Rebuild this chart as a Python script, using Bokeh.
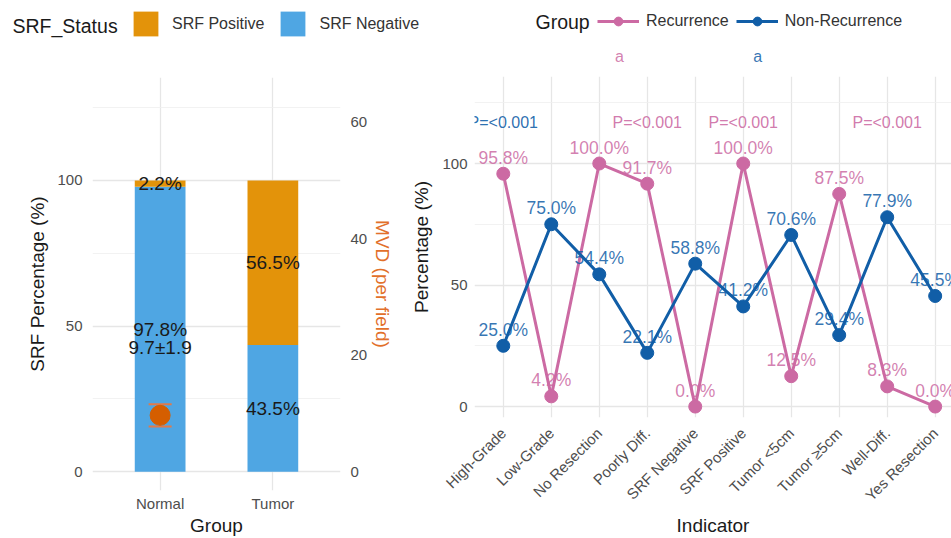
import math
from bokeh.plotting import figure
from bokeh.layouts import row, column
from bokeh.models import (ColumnDataSource, FactorRange, Range1d, LinearAxis,
                          FixedTicker, Legend, LegendItem)
from bokeh.core.properties import value
from bokeh.embed import file_html
from bokeh.resources import INLINE

FONT = "Liberation Sans"
NAN = float("nan")

# ---------------- data: left panel ----------------
groups = ["Normal", "Tumor"]
srf_negative = [97.8, 43.5]
srf_positive = [2.2, 56.5]
mvd_group = ["Normal"]
mvd_mean = [9.7]
mvd_sd = [1.9]

# ---------------- data: right panel ----------------
indicators = ["High-Grade", "Low-Grade", "No Resection", "Poorly Diff.",
              "SRF Negative", "SRF Positive", "Tumor <5cm", "Tumor \u22655cm",
              "Well-Diff.", "Yes Resection"]
recurrence = [95.8, 4.2, 100.0, 91.7, 0.0, 100.0, 12.5, 87.5, 8.3, 0.0]
non_recurrence = [25.0, 75.0, 54.4, 22.1, 58.8, 41.2, 70.6, 29.4, 77.9, 45.5]
p_indicators = ["High-Grade", "Poorly Diff.", "SRF Positive", "Well-Diff."]
p_groups = ["Non-Recurrence", "Recurrence", "Recurrence", "Recurrence"]
p_texts = ["P=<0.001", "P=<0.001", "P=<0.001", "P=<0.001"]

# ---------------- styles ----------------
C_NEG = "#4FA6E3"
C_POS = "#E3930A"
C_MVD = "#D55E00"
C_REC = "#CC6AA3"
C_NON = "#115EA7"
GRID = "#E6E6E6"
MINOR = "#EFEFEF"
TICK_COL = "#4D4D4D"
TXT = "#1A1A1A"
HEADER_H = 48
MAIN_H = 490


def style_axis(ax, label_standoff, tick_standoff):
    ax.axis_line_color = None
    ax.major_tick_line_color = None
    ax.minor_tick_line_color = None
    ax.major_tick_out = 0
    ax.major_tick_in = 0
    ax.minor_tick_out = 0
    ax.minor_tick_in = 0
    ax.major_label_text_font = FONT
    ax.major_label_text_font_size = "15px"
    ax.major_label_text_color = TICK_COL
    ax.major_label_standoff = tick_standoff
    ax.axis_label_text_font = FONT
    ax.axis_label_text_font_size = "19px"
    ax.axis_label_text_font_style = "normal"
    ax.axis_label_text_color = TXT
    ax.axis_label_standoff = label_standoff


def make_legend(items, glyph_w, glyph_h, standoff, spacing):
    leg = Legend(items=items)
    leg.orientation = "horizontal"
    leg.glyph_width = glyph_w
    leg.glyph_height = glyph_h
    leg.label_standoff = standoff
    leg.spacing = spacing
    leg.padding = 0
    leg.margin = 0
    leg.border_line_color = None
    leg.background_fill_alpha = 0
    leg.label_text_font = FONT
    leg.label_text_font_size = "16px"
    leg.label_text_color = "#333333"
    return leg


def new_fig(**kw):
    p = figure(output_backend="svg", toolbar_location=None,
               outline_line_color=None, **kw)
    try:
        p.frame_align = False
    except Exception:
        pass
    return p


def header_fig(width):
    # pixel-scaled header strip that carries the legend
    h = new_fig(width=width, height=HEADER_H, x_range=Range1d(0, width),
                y_range=Range1d(0, HEADER_H), x_axis_type=None, y_axis_type=None,
                min_border=0)
    h.grid.visible = False
    return h


# ================= LEFT FIGURE =================
left = new_fig(x_range=FactorRange(factors=groups, range_padding=0.1,
                                   range_padding_units="absolute"),
               y_range=Range1d(-6.4, 135.3),
               width=408, height=MAIN_H,
               min_border_left=92, min_border_right=68,
               min_border_top=29, min_border_bottom=48)
left.extra_y_ranges = {"mvd": Range1d(-3.2, 67.65)}

src_bar = ColumnDataSource(dict(group=groups, neg=srf_negative, pos=srf_positive))
bars = left.vbar_stack(["neg", "pos"], x="group", width=0.45, source=src_bar,
                       color=[C_NEG, C_POS], line_color=None)

lab_x, lab_y, lab_t = [], [], []
for g, n, p in zip(groups, srf_negative, srf_positive):
    lab_x += [g, g]
    lab_y += [n / 2.0, n + p / 2.0]
    lab_t += [f"{n:.1f}%", f"{p:.1f}%"]
left.text(x=lab_x, y=lab_y, text=lab_t, text_align="center", text_baseline="middle",
          text_font=value(FONT), text_font_size="19px", text_color=TXT)

lo = [m - s for m, s in zip(mvd_mean, mvd_sd)]
hi = [m + s for m, s in zip(mvd_mean, mvd_sd)]
left.segment(x0=mvd_group, x1=mvd_group, y0=lo, y1=hi, y_range_name="mvd",
             line_color="#E07A4A", line_width=2)
left.scatter(x=mvd_group * 2, y=lo + hi, y_range_name="mvd", marker="dash",
             size=23, line_color="#E07A4A", line_width=2)
left.scatter(x=mvd_group, y=mvd_mean, y_range_name="mvd", size=20,
             color=C_MVD, line_color=C_MVD)
mvd_txt = [f"{m:.1f}\u00b1{s:.1f}" for m, s in zip(mvd_mean, mvd_sd)]
left.text(x=mvd_group, y=[21.4], y_range_name="mvd", text=mvd_txt,
          text_align="center", text_baseline="middle",
          text_font=value(FONT), text_font_size="19px", text_color=TXT)

left.yaxis.ticker = FixedTicker(ticks=[0, 50, 100], minor_ticks=[25, 75, 125])
left.yaxis.axis_label = "SRF Percentage (%)"
left.xaxis.axis_label = "Group"
style_axis(left.yaxis[0], 6, 10)
style_axis(left.xaxis[0], 0, 4)
rax = LinearAxis(y_range_name="mvd", ticker=FixedTicker(ticks=[0, 20, 40, 60]),
                 axis_label="MVD (per field)")
style_axis(rax, 2, 10)
rax.axis_label_text_color = "#E2702A"
left.add_layout(rax, "right")

left.xgrid.grid_line_color = GRID
left.xgrid.grid_line_width = 1.3
left.ygrid.grid_line_color = GRID
left.ygrid.grid_line_width = 1.3
left.ygrid.minor_grid_line_color = MINOR
left.ygrid.minor_grid_line_width = 0.8

# ================= RIGHT FIGURE =================
xs = list(range(len(indicators)))
right = new_fig(x_range=Range1d(-0.6, 9.34), y_range=Range1d(-4.5, 135.8),
                width=543, height=MAIN_H,
                min_border_left=65, min_border_right=0,
                min_border_top=28, min_border_bottom=116)

right.line(xs, recurrence, line_color=C_REC, line_width=3)
right.scatter(xs, recurrence, size=13, color=C_REC)
right.line(xs, non_recurrence, line_color=C_NON, line_width=3)
right.scatter(xs, non_recurrence, size=13, color=C_NON)

for vals, col in ((recurrence, C_REC), (non_recurrence, C_NON)):
    right.text(x=xs, y=vals, text=[f"{v:.1f}%" for v in vals], y_offset=-16,
               text_align="center", text_baseline="middle",
               text_font=value(FONT), text_font_size="17.5px",
               text_color=col, text_alpha=0.85)

p_x = [indicators.index(c) for c in p_indicators]
p_col = [C_REC if g == "Recurrence" else C_NON for g in p_groups]
right.text(x=p_x, y=[117] * len(p_x), text=p_texts, text_align="center",
           text_baseline="middle", text_font=value(FONT), text_font_size="16px",
           text_color=p_col, text_alpha=0.9)

right.xaxis.ticker = FixedTicker(ticks=xs)
right.xaxis.major_label_overrides = {i: n for i, n in enumerate(indicators)}
right.xaxis.major_label_orientation = math.pi / 4
right.xaxis.axis_label = "Indicator"
right.yaxis.ticker = FixedTicker(ticks=[0, 50, 100], minor_ticks=[25, 75, 125])
right.yaxis.axis_label = "Percentage (%)"
style_axis(right.yaxis[0], 7, 7)
style_axis(right.xaxis[0], 2, 13)

right.xgrid.grid_line_color = GRID
right.xgrid.grid_line_width = 1.3
right.ygrid.grid_line_color = GRID
right.ygrid.grid_line_width = 1.3
right.ygrid.minor_grid_line_color = MINOR
right.ygrid.minor_grid_line_width = 0.8

# ggplot legend-key text marks ("a") under each legend key
key_x = [2.42, 5.30]
key_col = [C_REC, C_NON]
ra = right.text(x=key_x, y=[144, 144], text=["a", "a"], text_align="center",
                text_baseline="middle", text_font=value(FONT), text_font_size="16px",
                text_color=key_col, text_alpha=0.85)
ra.level = "overlay"

# ================= LEGEND HEADERS (legend proxies hold no visible data) =================
hl = header_fig(488)
k_pos = hl.vbar(x=[NAN], top=[NAN], width=0.1, color=C_POS, line_color=None)
k_neg = hl.vbar(x=[NAN], top=[NAN], width=0.1, color=C_NEG, line_color=None)
lleg = make_legend([LegendItem(label="SRF Positive", renderers=[k_pos]),
                    LegendItem(label="SRF Negative", renderers=[k_neg])],
                   31, 31, 11, 13)
lleg.location = (130, 9)
hl.add_layout(lleg, "center")
hl.text(x=[12], y=[23], text=["SRF_Status"], text_align="left",
        text_baseline="middle", text_font=value(FONT), text_font_size="19.5px",
        text_color=TXT)

hr = header_fig(463)
k_rl = hr.line(x=[NAN, NAN], y=[NAN, NAN], line_color=C_REC, line_width=3)
k_rp = hr.scatter(x=[NAN], y=[NAN], size=13, color=C_REC)
k_nl = hr.line(x=[NAN, NAN], y=[NAN, NAN], line_color=C_NON, line_width=3)
k_np = hr.scatter(x=[NAN], y=[NAN], size=13, color=C_NON)
rleg = make_legend([LegendItem(label="Recurrence", renderers=[k_rl, k_rp]),
                    LegendItem(label="Non-Recurrence", renderers=[k_nl, k_np])],
                   42, 22, 7, 7)
rleg.location = (109, 16)
hr.add_layout(rleg, "center")
hr.text(x=[47], y=[27], text=["Group"], text_align="left",
        text_baseline="middle", text_font=value(FONT), text_font_size="19.5px",
        text_color=TXT)

layout = column(row(hl, hr), row(left, right))
open("out.html", "w").write(file_html(layout, INLINE))
